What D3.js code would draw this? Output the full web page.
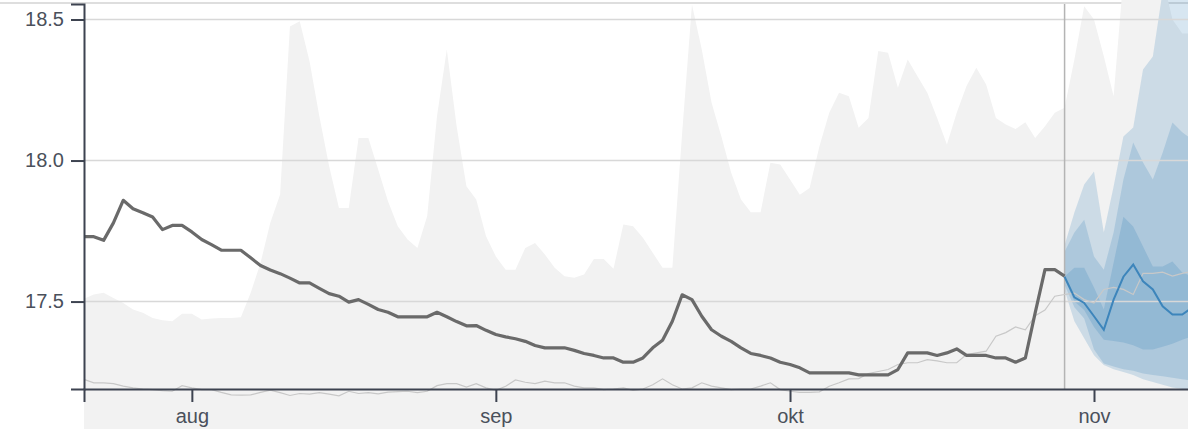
<!DOCTYPE html>
<html lang="en">
<head>
<meta charset="utf-8">
<title>Forecast chart</title>
<script src="https://cdn.jsdelivr.net/npm/d3@7"></script>
<style>
  body { margin: 0; background: #fff; }
  .axis text { font-family: "Liberation Sans", Arial, sans-serif; font-size: 20px; fill: #4a505b; }
  .axis path, .axis line { stroke: #3d4350; stroke-width: 2; }
</style>
</head>
<body>
<div id="chart"></div>
<script>
// first day of the series, one value per day after that
var startDate = new Date(2020, 6, 21);
var todayIndex = 100;
var monthLabels = ["aug", "sep", "okt", "nov"];
var yTicks = [17.5, 18.0, 18.5];

// observed level (thick dark line), Jul 21 .. Oct 29
var observed = [17.73, 17.73, 17.717, 17.779, 17.859, 17.829, 17.815, 17.80, 17.755, 17.77,
  17.77, 17.747, 17.72, 17.702, 17.682, 17.682, 17.682, 17.655, 17.628, 17.612,
  17.599, 17.583, 17.566, 17.566, 17.547, 17.528, 17.519, 17.498, 17.507, 17.49,
  17.472, 17.462, 17.446, 17.446, 17.446, 17.446, 17.462, 17.446, 17.429, 17.414,
  17.415, 17.398, 17.383, 17.375, 17.368, 17.359, 17.344, 17.336, 17.336, 17.336,
  17.327, 17.316, 17.309, 17.30, 17.30, 17.285, 17.285, 17.30, 17.336, 17.363,
  17.43, 17.524, 17.507, 17.448, 17.40, 17.377, 17.359, 17.336, 17.316, 17.309,
  17.30, 17.285, 17.277, 17.265, 17.247, 17.247, 17.247, 17.247, 17.247, 17.24,
  17.24, 17.24, 17.24, 17.259, 17.318, 17.318, 17.318, 17.309, 17.318, 17.332,
  17.309, 17.309, 17.309, 17.30, 17.30, 17.285, 17.30, 17.46, 17.613, 17.613,
  17.59];

// historic maximum (top of the light grey area)
var histMax = [17.51, 17.525, 17.531, 17.513, 17.495, 17.472, 17.46, 17.442, 17.434, 17.43,
  17.457, 17.457, 17.436, 17.44, 17.442, 17.442, 17.444, 17.531, 17.637, 17.779,
  17.88, 18.475, 18.494, 18.352, 18.157, 17.98, 17.832, 17.832, 18.08, 18.08,
  17.968, 17.856, 17.767, 17.72, 17.69, 17.803, 18.157, 18.394, 18.122, 17.909,
  17.862, 17.732, 17.66, 17.613, 17.613, 17.69, 17.708, 17.667, 17.62, 17.59,
  17.584, 17.596, 17.651, 17.651, 17.616, 17.773, 17.767, 17.726, 17.673, 17.62,
  17.62, 18.098, 18.553, 18.394, 18.205, 18.085, 17.957, 17.862, 17.817, 17.817,
  17.992, 17.986, 17.933, 17.879, 17.903, 18.051, 18.169, 18.24, 18.228, 18.116,
  18.151, 18.388, 18.382, 18.258, 18.358, 18.299, 18.24, 18.151, 18.057, 18.169,
  18.264, 18.329, 18.27, 18.151, 18.128, 18.112, 18.136, 18.08, 18.122, 18.169,
  18.187, 18.358, 18.547, 18.5, 18.37, 18.228, 18.65, 18.7, 18.7, 18.7,
  18.65, 18.5, 18.45, 18.45];
// historic minimum lies below the visible range
var histMin = 16.9;

// thin light line (last year)
var lastYear = [17.224, 17.212, 17.212, 17.209, 17.2, 17.194, 17.19, 17.188, 17.184, 17.182,
  17.202, 17.194, 17.188, 17.188, 17.178, 17.169, 17.168, 17.169, 17.178, 17.186,
  17.177, 17.167, 17.174, 17.172, 17.177, 17.172, 17.166, 17.182, 17.174, 17.177,
  17.173, 17.179, 17.181, 17.182, 17.177, 17.182, 17.202, 17.209, 17.209, 17.197,
  17.209, 17.194, 17.185, 17.2, 17.222, 17.214, 17.209, 17.218, 17.212, 17.212,
  17.2, 17.194, 17.194, 17.188, 17.19, 17.194, 17.185, 17.19, 17.205, 17.226,
  17.205, 17.19, 17.194, 17.212, 17.2, 17.194, 17.188, 17.19, 17.19, 17.2,
  17.212, 17.188, 17.182, 17.178, 17.178, 17.18, 17.2, 17.212, 17.226, 17.227,
  17.245, 17.252, 17.259, 17.277, 17.283, 17.283, 17.294, 17.29, 17.283, 17.283,
  17.312, 17.318, 17.324, 17.377, 17.39, 17.41, 17.40, 17.45, 17.47, 17.519,
  17.525, 17.53, 17.507, 17.495, 17.543, 17.55, 17.543, 17.525, 17.6, 17.60,
  17.604, 17.59, 17.60, 17.607];

// forecast from Oct 29 onwards
var fcMedian = [17.588, 17.515, 17.495, 17.448, 17.40, 17.507, 17.588, 17.631, 17.572, 17.543, 17.483, 17.454, 17.454, 17.478];
var fcOuterHi = [17.70, 17.816, 17.915, 17.961, 17.745, 17.908, 18.085, 18.117, 18.323, 18.369, 18.6, 18.65, 18.65, 18.6];
var fcOuterLo = [17.54, 17.43, 17.37, 17.31, 17.275, 17.26, 17.25, 17.24, 17.225, 17.215, 17.205, 17.195, 17.19, 17.185];
var fcMidHi = [17.677, 17.745, 17.79, 17.66, 17.613, 17.745, 17.933, 18.064, 17.993, 17.933, 18.028, 18.135, 18.1, 18.075];
var fcMidLo = [17.56, 17.48, 17.44, 17.33, 17.28, 17.27, 17.26, 17.255, 17.245, 17.24, 17.235, 17.23, 17.225, 17.22];
var fcInnerHi = [17.589, 17.62, 17.62, 17.55, 17.472, 17.638, 17.801, 17.766, 17.695, 17.624, 17.624, 17.642, 17.603, 17.589];
var fcInnerLo = [17.58, 17.50, 17.47, 17.41, 17.365, 17.36, 17.355, 17.345, 17.33, 17.33, 17.34, 17.35, 17.365, 17.376];

var W = 1188, H = 429;
var plotLeft = 84, plotBottom = 389, plotTop = 4;
var nDays = 113;
var endDate = d3.timeDay.offset(startDate, nDays);

var x = d3.scaleTime().domain([startDate, endDate]).range([plotLeft, plotLeft + nDays * (1094 - plotLeft) / 103]);
var y = d3.scaleLinear().domain([17.19, 18.555]).range([plotBottom, plotTop]);

function day(i) { return d3.timeDay.offset(startDate, i); }

var svg = d3.select("#chart").append("svg").attr("width", W).attr("height", H);

// top frame line
svg.append("line").attr("x1", 0).attr("x2", W).attr("y1", 3).attr("y2", 3)
  .attr("stroke", "#dedede").attr("stroke-width", 2);

// grey historic band
var histData = histMax.map(function (v, i) { return { d: day(i), hi: v, lo: histMin }; });
svg.append("path").datum(histData)
  .attr("fill", "#f2f2f2")
  .attr("d", d3.area().x(function (d) { return x(d.d); })
    .y0(function (d) { return y(d.lo); }).y1(function (d) { return y(d.hi); }));

// forecast bands
var bands = [[fcOuterLo, fcOuterHi], [fcMidLo, fcMidHi], [fcInnerLo, fcInnerHi]];
bands.forEach(function (b) {
  var data = b[0].map(function (lo, i) { return { d: day(todayIndex + i), lo: lo, hi: b[1][i] }; });
  svg.append("path").datum(data)
    .attr("fill", "#1f77b4").attr("fill-opacity", 0.18)
    .attr("d", d3.area().x(function (d) { return x(d.d); })
      .y0(function (d) { return y(d.lo); }).y1(function (d) { return y(d.hi); }));
});

// gridlines
svg.append("g").selectAll("line").data(yTicks).enter().append("line")
  .attr("x1", plotLeft).attr("x2", W)
  .attr("y1", function (d) { return y(d); }).attr("y2", function (d) { return y(d); })
  .attr("stroke", "#d8d8d8").attr("stroke-width", 1.5);

// today marker
svg.append("line")
  .attr("x1", x(day(todayIndex))).attr("x2", x(day(todayIndex)))
  .attr("y1", plotTop).attr("y2", plotBottom)
  .attr("stroke", "#b4b4b4").attr("stroke-width", 1.5);

var line = d3.line().x(function (d, i) { return x(day(i)); }).y(function (d) { return y(d); });

svg.append("path").datum(lastYear)
  .attr("fill", "none").attr("stroke", "#c8c8c8").attr("stroke-width", 1.2)
  .attr("d", line);

svg.append("path").datum(observed)
  .attr("fill", "none").attr("stroke", "#6a6a6a").attr("stroke-width", 3.2)
  .attr("stroke-linejoin", "round")
  .attr("d", line);

svg.append("path").datum(fcMedian)
  .attr("fill", "none").attr("stroke", "#3d85bb").attr("stroke-width", 2)
  .attr("d", d3.line().x(function (d, i) { return x(day(todayIndex + i)); }).y(function (d) { return y(d); }));

// axes
var months = d3.timeMonth.range(d3.timeMonth.ceil(startDate), endDate).slice(0, monthLabels.length);
var xAxis = d3.axisBottom(x).tickValues(months)
  .tickFormat(function (d, i) { return monthLabels[i]; })
  .tickSize(13).tickPadding(7);
svg.append("g").attr("class", "axis").attr("transform", "translate(0," + plotBottom + ")")
  .call(xAxis);

var yAxis = d3.axisLeft(y).tickValues(yTicks).tickFormat(d3.format(".1f"))
  .tickSize(13).tickPadding(7);
svg.append("g").attr("class", "axis").attr("transform", "translate(" + plotLeft + ",0)")
  .call(yAxis);
</script>
</body>
</html>
